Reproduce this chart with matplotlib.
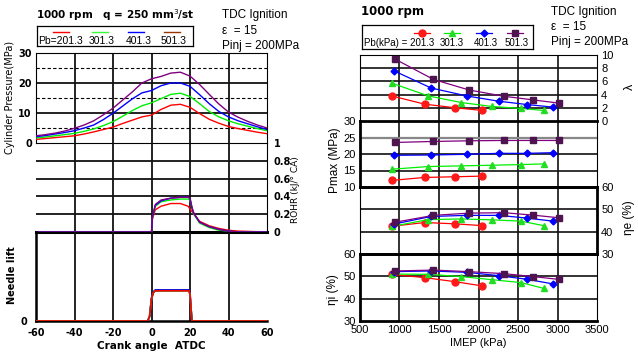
import numpy as np
import matplotlib
matplotlib.use('Agg')
import matplotlib.pyplot as plt

W, H = 638, 357

# ---- left chart: crank angle traces
pb_labels = ['201.3', '301.3', '401.3', '501.3']
ca = [-60, -55, -50, -45, -40, -35, -30, -25, -20, -15, -10, -5, 0,
      5, 10, 15, 20, 25, 30, 35, 40, 45, 50, 55, 60]
p_201 = [1.2, 1.5, 1.8, 2.1, 2.4, 3.0, 3.7, 4.5, 5.3, 6.5, 7.6, 8.7, 9.3,
         11.2, 12.6, 12.9, 11.9, 9.8, 7.9, 6.6, 5.5, 4.8, 4.2, 3.6, 3.1]
p_301 = [1.7, 2.0, 2.4, 2.8, 3.2, 3.9, 4.7, 5.8, 7.1, 8.9, 10.8, 12.4, 13.4,
         14.8, 16.2, 16.6, 15.5, 13.1, 10.5, 8.7, 7.4, 6.4, 5.6, 4.8, 4.1]
p_401 = [2.1, 2.5, 3.0, 3.5, 4.1, 5.0, 6.0, 7.8, 9.9, 12.3, 14.7, 16.7, 17.5,
         19.1, 20.0, 20.0, 18.9, 16.1, 13.1, 10.5, 8.7, 7.4, 6.4, 5.4, 4.5]
p_501 = [2.4, 2.8, 3.3, 4.0, 4.9, 6.0, 7.4, 9.4, 11.6, 14.3, 17.0, 20.0, 21.4,
         22.2, 23.3, 23.6, 22.3, 19.5, 16.2, 13.0, 10.3, 8.6, 7.2, 6.0, 5.0]

rohr_ca = [-60, -1, 0, 0.5, 2, 5, 10, 15, 19, 20, 21, 22, 25, 30, 35, 40, 45, 60]
rohr_201 = [0, 0, 0, 0.15, 0.25, 0.29, 0.32, 0.32, 0.29, 0.26, 0.23, 0.20, 0.12, 0.07, 0.04, 0.02, 0.01, 0]
rohr_301 = [0, 0, 0, 0.16, 0.29, 0.34, 0.36, 0.37, 0.37, 0.36, 0.27, 0.20, 0.10, 0.05, 0.02, 0.01, 0, 0]
rohr_401 = [0, 0, 0, 0.17, 0.30, 0.35, 0.38, 0.39, 0.39, 0.38, 0.27, 0.21, 0.11, 0.06, 0.03, 0.01, 0, 0]
rohr_501 = [0, 0, 0, 0.17, 0.31, 0.36, 0.38, 0.39, 0.39, 0.38, 0.28, 0.21, 0.11, 0.06, 0.03, 0.01, 0, 0]

nl_ca = [-60, -2, -1, 0, 1, 2, 19.5, 20, 21, 60]
lift_201 = [0, 0, 0.05, 0.25, 0.32, 0.34, 0.34, 0.30, 0, 0]
lift_301 = [0, 0, 0.05, 0.26, 0.33, 0.35, 0.35, 0.31, 0, 0]
lift_401 = [0, 0, 0.05, 0.25, 0.32, 0.34, 0.34, 0.30, 0, 0]
lift_501 = [0, 0, 0.05, 0.25, 0.32, 0.34, 0.34, 0.30, 0, 0]

# ---- right chart: vs IMEP
imep_201 = [900, 1320, 1705, 2050]
imep_301 = [910, 1365, 1780, 2170, 2540, 2825]
imep_401 = [930, 1400, 1850, 2255, 2610, 2945]
imep_501 = [940, 1430, 1880, 2320, 2690, 3025]
lam_201 = [3.8, 2.55, 2.0, 1.6]
lam_301 = [5.7, 3.8, 2.8, 2.2, 1.9, 1.6]
lam_401 = [7.6, 5.0, 3.8, 3.0, 2.5, 2.1]
lam_501 = [9.4, 6.3, 4.7, 3.75, 3.2, 2.7]
pmax_201 = [12.0, 12.9, 13.1, 13.3]
pmax_301 = [15.4, 16.2, 16.4, 16.6, 16.8, 17.0]
pmax_401 = [19.6, 19.7, 19.9, 20.2, 20.2, 20.4]
pmax_501 = [23.5, 23.8, 24.0, 24.1, 24.1, 24.1]
ne_201 = [42.4, 44.1, 43.5, 42.7]
ne_301 = [42.4, 45.4, 45.7, 45.3, 44.7, 42.7]
ne_401 = [43.4, 46.8, 47.3, 47.3, 46.1, 44.7]
ne_501 = [44.2, 47.3, 48.3, 48.5, 47.4, 46.2]
ni_201 = [50.9, 49.4, 47.6, 45.7]
ni_301 = [51.0, 50.9, 49.9, 48.5, 47.2, 44.6]
ni_401 = [52.1, 52.4, 51.8, 50.3, 48.7, 46.6]
ni_501 = [52.4, 52.8, 52.1, 51.2, 49.9, 48.6]

line_cols = ['#ff0000', '#00ee00', '#0000ff', '#800080']
mark_cols = ['#ff1a1a', '#22dd22', '#0000ff', '#4d1450']
markers = ['o', '^', 'D', 's']
msizes = [5, 5, 3.5, 5]

plt.rcParams['font.family'] = ['Liberation Sans', 'DejaVu Sans']
fig = plt.figure(figsize=(W / 100, H / 100), dpi=100)


def px_axes(x0, y0, x1, y1):
    return fig.add_axes([x0 / W, 1 - y1 / H, (x1 - x0) / W, (y1 - y0) / H])


def style(ax, lw=(0.8, 0.8, 0.8, 0.8)):
    for side, w in zip(['left', 'right', 'top', 'bottom'], lw):
        ax.spines[side].set_linewidth(w)
    ax.tick_params(length=0, labelsize=7.5, pad=3)
    ax.set_facecolor('none')


def grid_lines(ax, xs=(), ys=(), lw=1.3, color='#111111'):
    x0, x1 = ax.get_xlim()
    y0, y1 = ax.get_ylim()
    if len(xs):
        ax.vlines(xs, y0, y1, colors=color, lw=lw, zorder=1.5)
    if len(ys):
        ax.hlines(ys, x0, x1, colors=color, lw=lw, zorder=1.5)
    ax.set_xlim(x0, x1)
    ax.set_ylim(y0, y1)


tick_font = dict(fontsize=7, fontweight='bold', family='DejaVu Sans')
ca_grid = [-40, -20, 0, 20, 40]

# pressure
ax1 = px_axes(36, 53, 267, 143)
style(ax1)
ax1.set_xlim(-60, 60)
ax1.set_ylim(0, 30)
grid_lines(ax1, ca_grid, [10, 20])
ax1.hlines([5, 15, 25], -60, 60, colors='black', lw=0.8, linestyles=(0, (3, 2)), zorder=1.5)
for y, c in zip([p_201, p_301, p_401, p_501], line_cols):
    ax1.plot(ca, y, color=c, lw=1.0, zorder=3)
ax1.set_xticks([])
ax1.set_yticks([0, 10, 20, 30])
ax1.set_yticklabels(['0', '10', '20', '30'], **tick_font)

# ROHR
ax2 = px_axes(36, 143, 267, 232)
style(ax2)
ax2.set_xlim(-60, 60)
ax2.set_ylim(0, 1)
grid_lines(ax2, ca_grid, [0.2, 0.4, 0.6, 0.8])
for y, c in zip([rohr_201, rohr_301, rohr_401, rohr_501], line_cols):
    ax2.plot(rohr_ca, y, color=c, lw=1.0, zorder=3)
ax2.set_xticks([])
ax2.yaxis.tick_right()
ax2.set_yticks([0, 0.2, 0.4, 0.6, 0.8, 1])
ax2.set_yticklabels(['0', '0.2', '0.4', '0.6', '0.8', '1'], **tick_font)
ax2.tick_params(pad=5)
ax2.spines['top'].set_visible(False)
ax2.spines['left'].set_visible(False)
ax2.spines['bottom'].set_linewidth(2.2)

# needle lift
ax3 = px_axes(36, 232, 267, 321)
style(ax3, lw=(1.8, 0, 0, 1.8))
ax3.set_xlim(-60, 60)
ax3.set_ylim(0, 1)
grid_lines(ax3, ca_grid)
for y, c in zip([lift_201, lift_301, lift_401, lift_501], line_cols[::-1]):
    ax3.plot(nl_ca, y, color=c, lw=1.2, zorder=3)
ax3.set_xticks([-60, -40, -20, 0, 20, 40, 60])
ax3.set_xticklabels(['-60', '-40', '-20', '0', '20', '40', '60'], **tick_font)
ax3.set_yticks([0])
ax3.set_yticklabels(['0'], **tick_font)
ax3.tick_params(axis='x', pad=5)
ax3.tick_params(axis='y', pad=6)
ax3.spines['right'].set_visible(False)
ax3.spines['top'].set_visible(False)
ax3.set_xlabel('Crank angle  ATDC', fontsize=7.5, fontweight='bold',
               family='DejaVu Sans', labelpad=2)

fig.text(10 / W, 1 - 97 / H, 'Cylinder Pressure(MPa)', rotation=90, ha='center',
         va='center', fontsize=7, family='DejaVu Sans')
fig.text(12 / W, 1 - 275 / H, 'Needle lift', rotation=90, ha='center',
         va='center', fontsize=7, fontweight='bold', family='DejaVu Sans')
fig.text(296 / W, 1 - 190 / H, 'ROHR (kJ/° CA)', rotation=90, ha='center',
         va='center', fontsize=6.5, family='DejaVu Sans')

fig.text(36 / W, 1 - 15 / H, '1000 rpm   q = 250 mm$^3$/st', ha='left', va='center',
         fontsize=7.5, fontweight='bold', family='DejaVu Sans')
for i, t in enumerate(['TDC Ignition', 'ε  = 15', 'Pinj = 200MPa']):
    fig.text(222 / W, 1 - (15 + 15.5 * i) / H, t, ha='left', va='center', fontsize=8.5)

# left legend box
lg = px_axes(37, 26, 193, 46)
lg.set_xlim(37, 193)
lg.set_ylim(46, 26)
lg.set_xticks([])
lg.set_yticks([])
for s in lg.spines.values():
    s.set_linewidth(0.9)
leg_cols = ['#ff0000', '#33ff33', '#0000ff', '#993300']
for xc, c in zip([61, 100, 136, 172], leg_cols):
    lg.plot([xc - 8, xc + 8], [32, 32], color=c, lw=1.0)
for xl, t in zip([38, 89, 126, 161], ['Pb=' + pb_labels[0]] + pb_labels[1:]):
    lg.text(xl, 40.5, t, ha='left', va='center', fontsize=7.5)

# ---- right chart
rx0, rx1 = 360, 597
xt = [500, 1000, 1500, 2000, 2500, 3000, 3500]
imeps = [imep_201, imep_301, imep_401, imep_501]


def plot_series(ax, ys):
    for x, y, lc, mc, m, ms in zip(imeps, ys, line_cols, mark_cols, markers, msizes):
        ax.plot(x, y, color=lc, lw=0.9, marker=m, ms=ms, mfc=mc, mec=mc, zorder=3)


def r_axes(y0, y1, ylim, yt, right, lw):
    ax = px_axes(rx0, y0, rx1, y1)
    style(ax, lw)
    ax.tick_params(labelsize=8)
    ax.set_xlim(500, 3500)
    ax.set_ylim(*ylim)
    grid_lines(ax, xt[1:-1], yt[1:-1], lw=1.2)
    ax.set_xticks(xt)
    ax.set_xticklabels([])
    ax.set_yticks(yt)
    if right:
        ax.yaxis.tick_right()
    return ax


axl = r_axes(55, 121, (0, 10), [0, 2, 4, 6, 8, 10], True, (0.8, 0.8, 0.8, 0.8))
plot_series(axl, [lam_201, lam_301, lam_401, lam_501])
axp = r_axes(121, 187, (10, 30), [10, 15, 20, 25, 30], False, (2, 0.8, 2, 2))
axp.hlines([25], 500, 3500, colors='#888888', lw=1.6, zorder=1.6)
plot_series(axp, [pmax_201, pmax_301, pmax_401, pmax_501])
axe = r_axes(187, 254, (30, 60), [30, 40, 50, 60], True, (0.8, 2, 2, 2))
plot_series(axe, [ne_201, ne_301, ne_401, ne_501])
axi = r_axes(254, 321, (30, 60), [30, 40, 50, 60], False, (2, 0.8, 2, 2))
plot_series(axi, [ni_201, ni_301, ni_401, ni_501])
axi.set_xticklabels([str(v) for v in xt])
axi.set_xlabel('IMEP (kPa)', fontsize=8, labelpad=2)

fig.text(335 / W, 1 - 160 / H, 'Pmax (MPa)', rotation=90, ha='center', va='center', fontsize=8.5)
fig.text(333 / W, 1 - 290 / H, 'ηi (%)', rotation=90, ha='center', va='center', fontsize=8.5)
fig.text(629 / W, 1 - 218 / H, 'ηe (%)', rotation=90, ha='center', va='center', fontsize=8.5)
fig.text(630 / W, 1 - 87 / H, 'λ', rotation=90, ha='center', va='center', fontsize=9)

fig.text(361 / W, 1 - 12 / H, '1000 rpm', ha='left', va='center', fontsize=8.5,
         fontweight='bold', family='DejaVu Sans')
for i, t in enumerate(['TDC Ignition', 'ε  = 15', 'Pinj = 200MPa']):
    fig.text(551 / W, 1 - (12 + 15 * i) / H, t, ha='left', va='center', fontsize=8.5)

rl = px_axes(362, 25, 533, 49)
rl.set_xlim(362, 533)
rl.set_ylim(49, 25)
rl.set_xticks([])
rl.set_yticks([])
for s in rl.spines.values():
    s.set_linewidth(0.9)
for xc, lc, mc, m, ms in zip([422, 452, 484, 515], line_cols, mark_cols, markers, msizes):
    rl.plot([xc - 8, xc + 8], [33, 33], color=lc, lw=0.9)
    rl.plot([xc], [33], marker=m, ms=ms, color=mc)
for xl, t in zip([364, 440, 474, 505], ['Pb(kPa) = ' + pb_labels[0]] + pb_labels[1:]):
    rl.text(xl, 43, t, ha='left', va='center', fontsize=7)

fig.savefig('out.png', dpi=100)
